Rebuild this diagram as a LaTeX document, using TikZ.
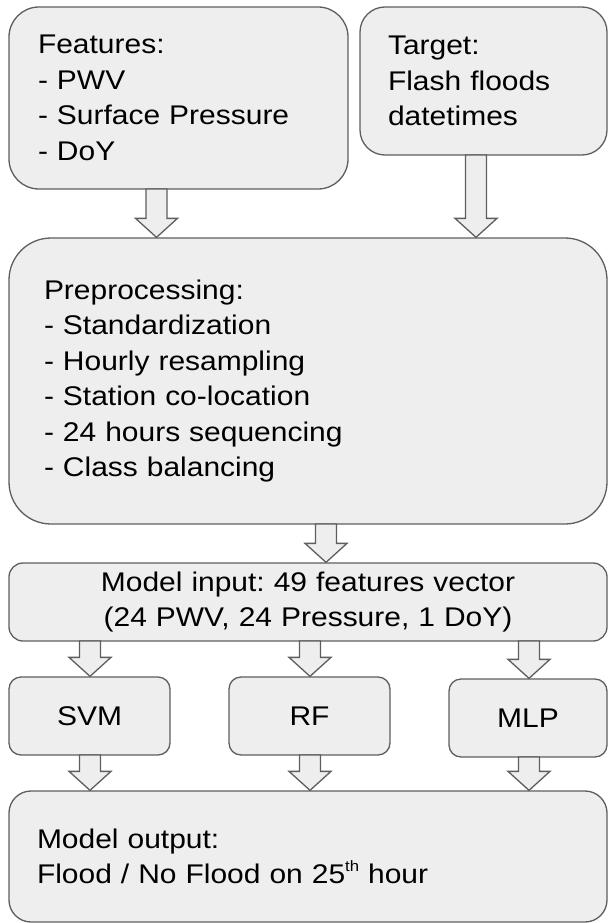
\documentclass[tikz,border=0pt]{standalone}
\usepackage{fontspec}
\setmainfont{Liberation Sans}[FakeStretch=1.11]
\frenchspacing
\usetikzlibrary{calc}
\definecolor{boxfill}{HTML}{EEEEEE}
\definecolor{boxline}{HTML}{5E5E5E}
\tikzset{
  box/.style={draw=boxline, fill=boxfill, line width=1.3pt, inner ysep=0pt,
    font=\fontsize{27}{35.5}\selectfont},
  blk/.style={draw=boxline, fill=boxfill, line width=1.3pt, line join=miter},
}
\newcommand\blkarrow[3]{%
  \draw[blk] let \p1=(#2.south), \p2=(#3.north) in
   (#1pt-10.5pt,\y1+0.6pt) -- (#1pt-10.5pt,\y2+19pt) -- (#1pt-21pt,\y2+19pt) --
   (#1pt,\y2) -- (#1pt+21pt,\y2+19pt) -- (#1pt+10.5pt,\y2+19pt) --
   (#1pt+10.5pt,\y1+0.6pt) -- cycle;}
\newcommand\supth{\raisebox{12pt}{\fontsize{15}{15}\selectfont th}}
\begin{document}
\begin{tikzpicture}[x=1pt,y=-1pt]
\useasboundingbox (0,0) rectangle (608,923);
\node[box, rounded corners=30pt, minimum height=182pt, text width=281pt,
  inner xsep=29pt, align=left] (feat) at (178.5,98)
  {Features:\\- PWV\\- Surface Pressure\\- DoY};
\node[box, rounded corners=25pt, minimum height=148pt, text width=191pt,
  inner xsep=28pt, align=left] (targ) at (483.5,81)
  {Target:\\Flash floods\\datetimes};
\node[box, rounded corners=42pt, minimum height=286pt, text width=528pt,
  inner xsep=35pt, align=left] (pre) at (308,381)
  {Preprocessing:\\- Standardization\\- Hourly resampling\\- Station co-location\\- 24 hours sequencing\\- Class balancing};
\node[box, rounded corners=14pt, minimum height=78pt, text width=560pt,
  inner xsep=19pt, align=center] (inp) at (308,602)
  {Model input: 49 features vector\\(24 PWV, 24 Pressure, 1 DoY)};
\node[box, rounded corners=12pt, minimum height=78pt, minimum width=161pt] (svm) at (89.5,716) {SVM};
\node[box, rounded corners=12pt, minimum height=78pt, minimum width=161pt] (rf) at (309.5,716) {RF};
\node[box, rounded corners=12pt, minimum height=78pt, minimum width=158pt] (mlp) at (528,718) {MLP};
\node[box, rounded corners=22pt, minimum height=131pt, text width=542pt,
  inner xsep=28pt, align=left] (out) at (308,856.5)
  {Model output:\\Flood / No Flood on 25\supth{} hour};
\blkarrow{156.5}{feat}{pre}
\blkarrow{476}{targ}{pre}
\blkarrow{326}{pre}{inp}
\blkarrow{90}{inp}{svm}
\blkarrow{310}{inp}{rf}
\blkarrow{529}{inp}{mlp}
\blkarrow{90}{svm}{out}
\blkarrow{310}{rf}{out}
\blkarrow{529}{mlp}{out}
\end{tikzpicture}
\end{document}
